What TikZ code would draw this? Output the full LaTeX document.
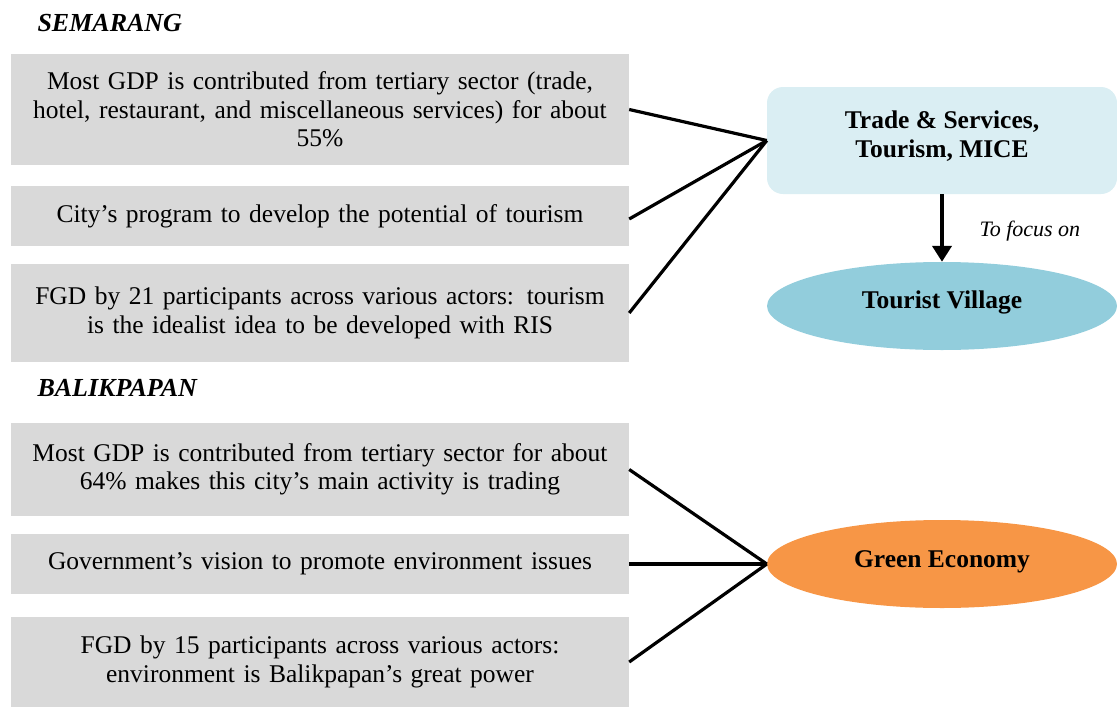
\documentclass[tikz,border=0pt]{standalone}
\usepackage{fontspec}
\setmainfont{Liberation Serif}
\usetikzlibrary{shapes.geometric,arrows.meta}
\definecolor{boxgray}{HTML}{D9D9D9}
\definecolor{lightblue}{HTML}{DAEEF3}
\definecolor{midblue}{HTML}{92CDDC}
\definecolor{orangefill}{HTML}{F79646}
\tikzset{
  infobox/.style={fill=boxgray, minimum width=618pt, text width=610pt, align=center, inner sep=0pt, font=\fontsize{25.5}{28.5}\selectfont},
  head/.style={anchor=west, font=\fontsize{26}{28}\selectfont\bfseries\itshape},
  conn/.style={line width=3.2pt},
  target/.style={font=\fontsize{25.5}{29}\selectfont\bfseries, align=center}
}
\begin{document}
\begin{tikzpicture}[x=1pt,y=-1pt]
\useasboundingbox (0,0) rectangle (1117,707);
\node[head] (sem) at (34,23) {SEMARANG};
\node[head] (bal) at (34,388) {BALIKPAPAN};
% Semarang boxes
\node[infobox, minimum height=111pt] (s1) at (320,109.5) {Most GDP is contributed from tertiary sector (trade,\\ hotel, restaurant, and miscellaneous services) for about\\ 55\%};
\node[infobox, minimum height=60pt] (s2) at (320,216) {City’s program to develop the potential of tourism};
\node[infobox, minimum height=98pt] (s3) at (320,313) {FGD by 21 participants across various actors: tourism\\ is the idealist idea to be developed with RIS};
% Balikpapan boxes
\node[infobox, minimum height=93pt] (b1) at (320,469.5) {Most GDP is contributed from tertiary sector for about\\ 64\% makes this city’s main activity is trading};
\node[infobox, minimum height=60pt] (b2) at (320,564) {Government’s vision to promote environment issues};
\node[infobox, minimum height=90pt] (b3) at (320,662) {FGD by 15 participants across various actors:\\ environment is Balikpapan’s great power};
% targets
\node[target, fill=lightblue, rounded corners=16pt, minimum width=350pt, minimum height=107pt, text depth=13pt] (tr) at (942,140.5) {Trade \& Services,\\ Tourism, MICE};
\node[target, ellipse, fill=midblue, minimum width=350pt, minimum height=88pt, inner sep=0pt, text depth=13pt] (tv) at (942,306) {Tourist Village};
\node[target, ellipse, fill=orangefill, minimum width=350pt, minimum height=88pt, inner sep=0pt, text depth=10pt] (ge) at (942,564) {Green Economy};
\node[font=\fontsize{22}{24}\selectfont\itshape, anchor=west] (focus) at (976,231) {To focus on};
% connectors
\draw[conn] (s1.east) -- (tr.west);
\draw[conn] ([yshift=-3pt]s2.east) -- (tr.west);
\draw[conn] (s3.east) -- (tr.west);
\draw[conn] (b1.east) -- (ge.west);
\draw[conn] (b2.east) -- (ge.west);
\draw[conn] (b3.east) -- (ge.west);
\draw[line width=4.5pt, -{Triangle[length=16pt,width=19pt]}] (tr.south) -- (tv.north);
\end{tikzpicture}
\end{document}
